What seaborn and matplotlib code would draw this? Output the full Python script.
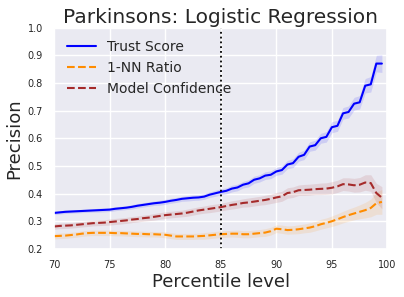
import matplotlib
matplotlib.use("Agg")
import matplotlib.pyplot as plt
import numpy as np
import pandas as pd
import seaborn as sns

# percentile levels (0.5 steps)
percentiles = [70 + 0.5 * i for i in range(60)]

trust_score = [
    0.330, 0.332, 0.334, 0.335, 0.336, 0.337, 0.338, 0.339, 0.340, 0.341,
    0.342, 0.345, 0.347, 0.349, 0.352, 0.356, 0.359, 0.362, 0.365, 0.367,
    0.370, 0.374, 0.377, 0.381, 0.383, 0.385, 0.386, 0.389, 0.396, 0.401,
    0.406, 0.410, 0.418, 0.422, 0.432, 0.437, 0.450, 0.455, 0.465, 0.468,
    0.480, 0.485, 0.505, 0.510, 0.533, 0.540, 0.570, 0.575, 0.600, 0.605,
    0.640, 0.645, 0.690, 0.695, 0.725, 0.730, 0.790, 0.795, 0.870, 0.870,
]
trust_err = [
    0.006, 0.006, 0.006, 0.006, 0.006, 0.006, 0.006, 0.006, 0.007, 0.007,
    0.007, 0.007, 0.007, 0.007, 0.008, 0.008, 0.008, 0.008, 0.008, 0.009,
    0.009, 0.009, 0.009, 0.009, 0.010, 0.010, 0.010, 0.010, 0.010, 0.011,
    0.011, 0.011, 0.012, 0.012, 0.012, 0.013, 0.013, 0.013, 0.014, 0.014,
    0.014, 0.015, 0.015, 0.016, 0.016, 0.017, 0.017, 0.018, 0.018, 0.019,
    0.020, 0.020, 0.021, 0.022, 0.023, 0.024, 0.026, 0.028, 0.030, 0.032,
]

nn_ratio = [
    0.246, 0.247, 0.248, 0.250, 0.252, 0.255, 0.257, 0.258, 0.258, 0.258,
    0.258, 0.257, 0.257, 0.256, 0.255, 0.254, 0.254, 0.253, 0.253, 0.252,
    0.251, 0.248, 0.245, 0.245, 0.245, 0.245, 0.246, 0.247, 0.249, 0.251,
    0.253, 0.254, 0.255, 0.255, 0.253, 0.253, 0.255, 0.257, 0.259, 0.264,
    0.273, 0.271, 0.268, 0.269, 0.271, 0.274, 0.277, 0.282, 0.289, 0.294,
    0.300, 0.307, 0.315, 0.322, 0.328, 0.334, 0.340, 0.348, 0.365, 0.370,
]
nn_err = [
    0.010, 0.010, 0.010, 0.010, 0.010, 0.010, 0.010, 0.010, 0.010, 0.010,
    0.010, 0.010, 0.010, 0.010, 0.010, 0.010, 0.010, 0.010, 0.010, 0.010,
    0.011, 0.011, 0.011, 0.011, 0.011, 0.011, 0.011, 0.012, 0.012, 0.012,
    0.012, 0.012, 0.012, 0.013, 0.013, 0.013, 0.013, 0.013, 0.014, 0.014,
    0.014, 0.015, 0.015, 0.015, 0.016, 0.016, 0.017, 0.017, 0.018, 0.018,
    0.019, 0.020, 0.021, 0.022, 0.023, 0.025, 0.028, 0.032, 0.040, 0.045,
]

model_conf = [
    0.281, 0.283, 0.284, 0.285, 0.287, 0.289, 0.291, 0.293, 0.294, 0.295,
    0.297, 0.299, 0.301, 0.303, 0.306, 0.308, 0.311, 0.313, 0.316, 0.319,
    0.322, 0.324, 0.326, 0.328, 0.331, 0.335, 0.339, 0.342, 0.345, 0.348,
    0.351, 0.355, 0.359, 0.362, 0.366, 0.368, 0.371, 0.374, 0.377, 0.381,
    0.386, 0.390, 0.402, 0.405, 0.412, 0.413, 0.414, 0.416, 0.417, 0.418,
    0.421, 0.426, 0.434, 0.433, 0.430, 0.432, 0.440, 0.438, 0.402, 0.385,
]
conf_err = [
    0.010, 0.010, 0.010, 0.010, 0.010, 0.010, 0.010, 0.010, 0.010, 0.010,
    0.011, 0.011, 0.011, 0.011, 0.011, 0.011, 0.011, 0.011, 0.012, 0.012,
    0.012, 0.012, 0.012, 0.012, 0.013, 0.013, 0.013, 0.013, 0.014, 0.014,
    0.014, 0.014, 0.015, 0.015, 0.015, 0.016, 0.016, 0.016, 0.017, 0.017,
    0.018, 0.018, 0.019, 0.019, 0.019, 0.020, 0.020, 0.020, 0.021, 0.021,
    0.022, 0.022, 0.023, 0.024, 0.025, 0.026, 0.028, 0.030, 0.035, 0.040,
]

SERIES = [
    ("Trust Score", trust_score, trust_err, "blue", "-"),
    ("1-NN Ratio", nn_ratio, nn_err, "darkorange", "--"),
    ("Model Confidence", model_conf, conf_err, "brown", "--"),
]

sns.set_theme(style="darkgrid")
plt.rcParams["font.family"] = ["DejaVu Sans"]

fig, ax = plt.subplots(figsize=(4.04, 2.97), dpi=100)
fig.subplots_adjust(left=0.134, right=0.959, top=0.907, bottom=0.162)

x = np.array(percentiles)
for label, vals, err, color, ls in SERIES:
    df = pd.DataFrame({"pct": percentiles, "val": vals})
    sns.lineplot(data=df, x="pct", y="val", ax=ax, color=color, linestyle=ls,
                 linewidth=1.5, label=label)
    v = np.array(vals)
    e = np.array(err)
    ax.fill_between(x, v - e, v + e, color=color, alpha=0.12, linewidth=0)

ax.axvline(85, color="black", linestyle=":", linewidth=1.3)

ax.set_xlim(70, 100)
ax.set_ylim(0.2, 1.0)
ax.set_xticks([70, 75, 80, 85, 90, 95, 100])
ax.set_yticks([0.2, 0.3, 0.4, 0.5, 0.6, 0.7, 0.8, 0.9, 1.0])
ax.tick_params(labelsize=7, pad=2)
ax.set_xlabel("Percentile level", fontsize=13, labelpad=2)
ax.set_ylabel("Precision", fontsize=13, labelpad=3)
ax.set_title("Parkinsons: Logistic Regression", fontsize=14.5, pad=3)
ax.legend(loc="upper left", fontsize=10, frameon=False, handlelength=2.1)

fig.savefig("out.png", dpi=100)
